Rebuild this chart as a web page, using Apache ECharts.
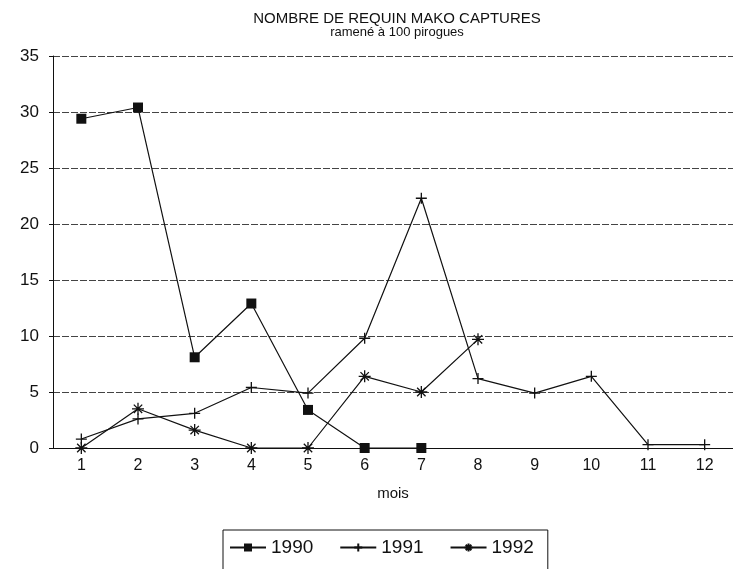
<!DOCTYPE html>
<html>
<head>
<meta charset="utf-8">
<script src="https://cdn.jsdelivr.net/npm/echarts@6/dist/echarts.min.js"></script>
<style>
  html, body { margin: 0; padding: 0; background: #fff; }
  #chart { width: 733px; height: 569px; }
</style>
</head>
<body>
<div id="chart"></div>
<script>
// mois 1..12
const months = ['1', '2', '3', '4', '5', '6', '7', '8', '9', '10', '11', '12'];

// captures de requin mako, ramené à 100 pirogues
const y1990 = [29.4, 30.4, 8.1, 12.9, 3.4, 0, 0, null, null, null, null, null];
const y1991 = [0.8, 2.6, 3.1, 5.4, 4.9, 9.8, 22.3, 6.2, 4.9, 6.4, 0.3, 0.3];
const y1992 = [0, 3.5, 1.6, 0, 0, 6.4, 5.0, 9.7, null, null, null, null];

const ink = '#111';
const plusSym = 'path://M0,-10L0,10M-10,0L10,0';
const starSym = 'path://M-10,0L10,0M-7,-7L7,7M-7,7L7,-7M0,-10L0,10';

function lineSeries(name, data, symbol, size, filled) {
  return {
    name: name,
    type: 'line',
    data: data,
    symbol: symbol,
    symbolSize: size,
    showAllSymbol: true,
    connectNulls: false,
    lineStyle: { color: ink, width: 1.2 },
    itemStyle: {
      color: filled ? ink : 'rgba(0,0,0,0)',
      borderColor: ink,
      borderWidth: filled ? 0 : 1.3
    },
    emphasis: { disabled: true }
  };
}

const chart = echarts.init(document.getElementById('chart'));

chart.setOption({
  animation: false,
  backgroundColor: '#fff',
  textStyle: { fontFamily: 'Liberation Sans', color: ink },
  title: {
    text: 'NOMBRE DE REQUIN MAKO CAPTURES',
    subtext: 'ramené à 100 pirogues',
    left: 392,
    textAlign: 'center',
    top: 6,
    itemGap: 0,
    textStyle: { fontSize: 15, fontWeight: 'normal', color: ink },
    subtextStyle: { fontSize: 13, color: ink }
  },
  legend: {
    left: 223,
    top: 530,
    itemWidth: 36,
    itemHeight: 10,
    itemGap: 26,
    padding: [8, 14, 14, 6],
    borderColor: ink,
    borderWidth: 1,
    textStyle: { fontSize: 19, color: ink },
    data: ['1990', '1991', '1992']
  },
  grid: { left: 53, top: 56, width: 688, height: 392 },
  xAxis: {
    type: 'category',
    data: months,
    boundaryGap: true,
    name: 'mois',
    nameLocation: 'middle',
    nameGap: 38,
    nameTextStyle: { fontSize: 15, color: ink },
    axisLine: { lineStyle: { color: ink, width: 1 } },
    axisTick: { alignWithLabel: true, length: 5, lineStyle: { color: ink } },
    axisLabel: { fontSize: 16, color: ink, margin: 10 },
    splitLine: { show: false }
  },
  yAxis: {
    type: 'value',
    min: 0,
    max: 35,
    interval: 5,
    axisLine: { show: true, lineStyle: { color: ink, width: 1 } },
    axisTick: { show: true, length: 4, lineStyle: { color: ink } },
    axisLabel: { fontSize: 17, color: ink, margin: 14 },
    splitLine: { show: true, lineStyle: { color: '#444', width: 1, type: [7, 2] } }
  },
  series: [
    lineSeries('1990', y1990, 'rect', 10, true),
    lineSeries('1991', y1991, plusSym, 11, false),
    lineSeries('1992', y1992, starSym, 12, false)
  ]
});
</script>
</body>
</html>
